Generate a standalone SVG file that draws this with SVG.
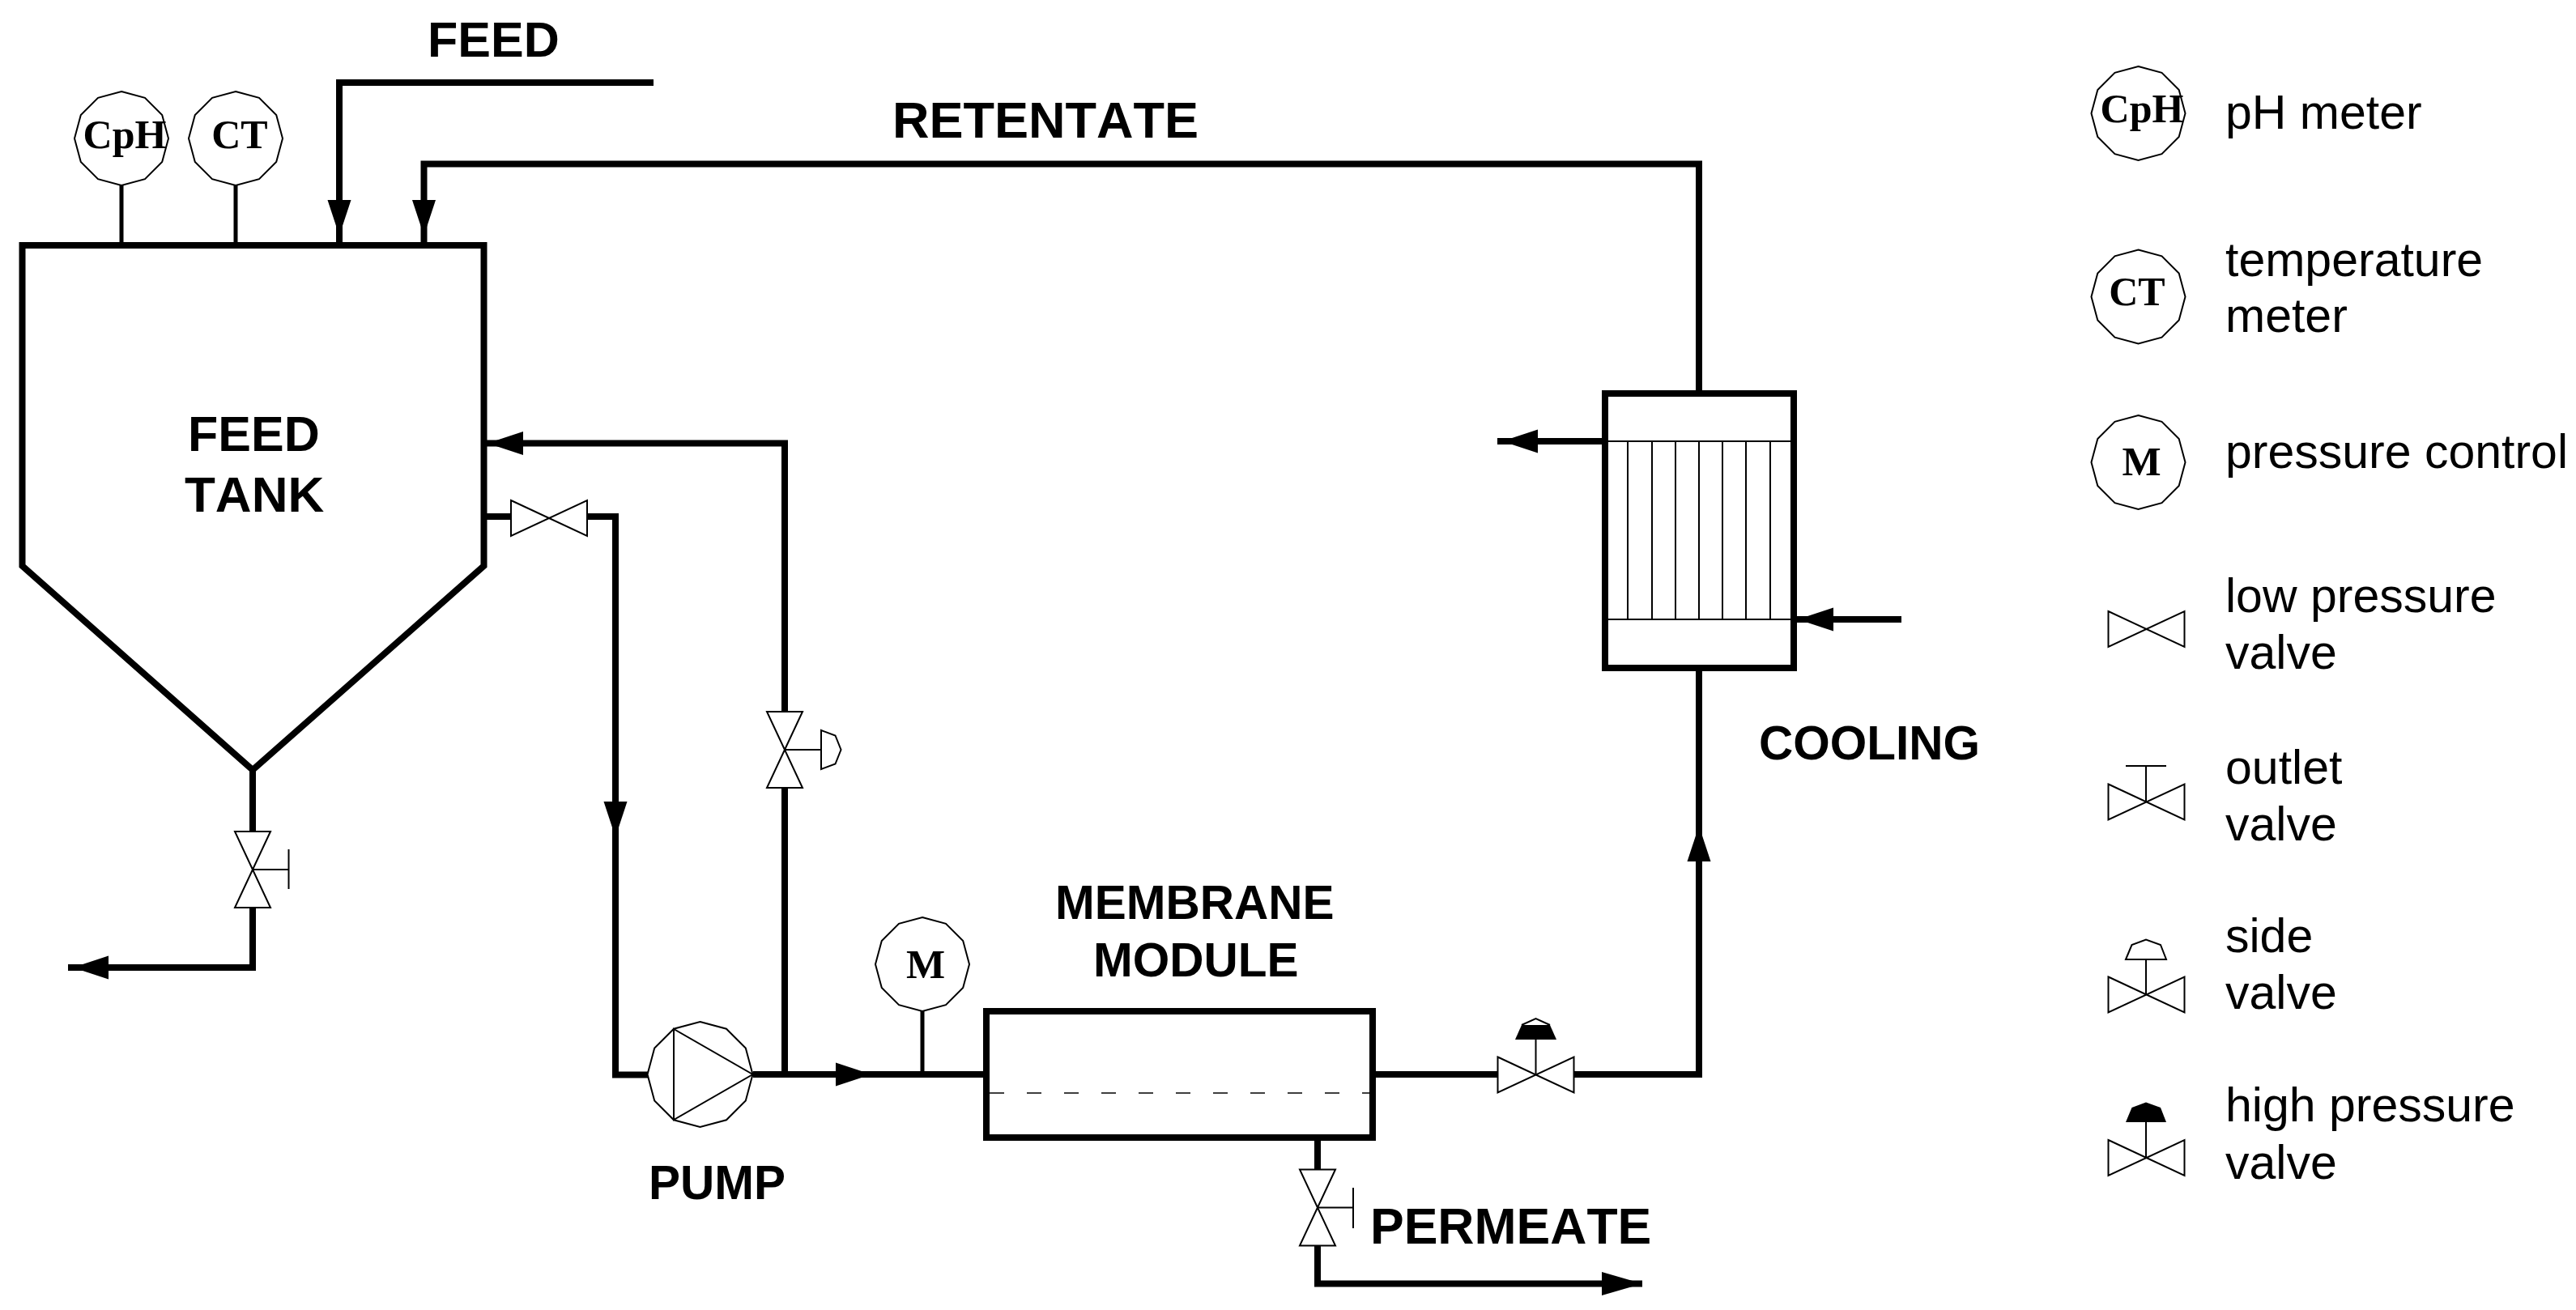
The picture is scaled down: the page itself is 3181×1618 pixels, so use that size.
<svg xmlns="http://www.w3.org/2000/svg" width="3181" height="1618" viewBox="0 0 3181 1618">
<style>
.pipe{fill:none;stroke:#000;stroke-width:8;stroke-linejoin:miter}
.stem{fill:none;stroke:#000;stroke-width:5}
.thin{fill:none;stroke:#000;stroke-width:2}
.sym{fill:#fff;stroke:#000;stroke-width:2}
text{font-kerning:none}
.lab{font-family:"Liberation Sans",Arial,sans-serif;font-weight:700;font-size:58.500px;fill:#000}
.leg{font-family:"Liberation Sans",Arial,sans-serif;font-size:59px;fill:#000}
.ins{font-family:"Liberation Serif","Times New Roman",serif;font-weight:700;font-size:50px;fill:#000;text-anchor:middle}
</style>
<defs>
<marker id="arr" markerUnits="userSpaceOnUse" markerWidth="60" markerHeight="30" refX="50" refY="15" orient="auto" overflow="visible"><polygon points="0,0.500 44,15 0,29.500" fill="#000"/></marker>
<marker id="arrL" markerUnits="userSpaceOnUse" markerWidth="60" markerHeight="30" refX="50" refY="15" orient="auto" overflow="visible"><polygon points="0,0.500 50,15 0,29.500" fill="#000"/></marker>
<polygon id="g12" points="0,-58 29,-50.2 50.2,-29 58,0 50.2,29 29,50.2 0,58 -29,50.2 -50.2,29 -58,0 -50.2,-29 -29,-50.2"/>
<path id="bow" d="M-47,-22 L47,22 L47,-22 L-47,22 Z"/>
<polygon id="cap" points="-25,0 -17.5,-18 0,-24.5 18,-18 25,0"/>
</defs>
<rect width="3181" height="1618" fill="#fff"/>
<g id="connectors">
<path class="pipe" d="M807,102 H419 V297" marker-end="url(#arr)"/>
<path class="pipe" d="M419,297 V303"/>
<path class="pipe" d="M2098,486 V202.500 H523.500 V297" marker-end="url(#arr)"/>
<path class="pipe" d="M523.500,297 V303"/>
<path class="pipe" d="M969,879 V547.500 H596" marker-end="url(#arr)"/>
<path class="pipe" d="M598,638 H631"/>
<path class="pipe" d="M725,638 H760 V1040" marker-end="url(#arr)"/>
<path class="pipe" d="M760,1040 V1327.500 H800"/>
<path class="pipe" d="M969,972 V1327"/>
<path class="pipe" d="M930,1327 H1082" marker-end="url(#arr)"/>
<path class="pipe" d="M1082,1327 H1218"/>
<path class="pipe" d="M1695,1327 H1850"/>
<path class="pipe" d="M1943,1327 H2098 V1014" marker-end="url(#arr)"/>
<path class="pipe" d="M2098,1014 V825"/>
<path class="pipe" d="M1982,545 H1849" marker-end="url(#arr)"/>
<path class="pipe" d="M2348,765 H2214" marker-end="url(#arr)"/>
<path class="pipe" d="M312,951 V1027"/>
<path class="pipe" d="M312,1120 V1195 H84" marker-end="url(#arr)"/>
<path class="pipe" d="M1627,1405 V1445"/>
<path class="pipe" d="M1627,1538 V1585.500 H2028" marker-end="url(#arrL)"/>
<path class="stem" d="M150,229 V303 M291,229 V303 M1139,1249 V1327"/>
</g>
<g id="feed-tank">
<path d="M27.500,303 H597.500 V699 L312,951 L27.500,699 Z" fill="#fff" stroke="#000" stroke-width="8"/>
<text class="lab" x="232" y="557" style="font-size:61px">FEED</text>
<text class="lab" x="228" y="632" style="font-size:62px">TANK</text>
</g>
<g id="cph-gauge"><use href="#g12" class="sym" transform="translate(150,171)"/><text class="ins" x="154" y="183">CpH</text></g>
<g id="ct-gauge"><use href="#g12" class="sym" transform="translate(291,171)"/><text class="ins" x="296" y="183">CT</text></g>
<g id="feed-label"><text class="lab" x="528" y="70" style="font-size:61px">FEED</text></g>
<g id="retentate-label"><text class="lab" x="1102" y="170" style="font-size:63px">RETENTATE</text></g>
<g id="low-valve"><use href="#bow" class="sym" transform="translate(678,640)"/></g>
<g id="side-valve"><use href="#bow" class="sym" transform="translate(969,926) rotate(90)"/><path class="thin" d="M969,926 H1014"/><path class="sym" d="M1014,902 L1031.500,908.500 L1038.500,926 L1031.500,943.500 L1014,950 Z"/></g>
<g id="tank-outlet-valve"><use href="#bow" class="sym" transform="translate(312,1074) rotate(90)"/><path class="thin" d="M312,1074 H356.500 M356.500,1049 V1098"/></g>
<g id="pump">
<polygon class="sym" points="864.500,1262 897,1270.700 920.800,1294.500 929.500,1327 920.800,1359.500 897,1383.300 864.500,1392 832,1383.300 808.200,1359.500 799.500,1327 808.200,1294.500 832,1270.700"/>
<path class="thin" d="M832,1271 V1383 L929.500,1327 Z"/>
<text class="lab" x="801" y="1481">PUMP</text>
</g>
<g id="pressure-gauge"><use href="#g12" class="sym" transform="translate(1139,1191)"/><text class="ins" x="1143" y="1208" style="font-size:51px">M</text></g>
<g id="membrane-module">
<rect x="1218" y="1249" width="477" height="156" fill="#fff" stroke="#000" stroke-width="8"/>
<path d="M1222,1350 H1692" fill="none" stroke="#000" stroke-width="1.500" stroke-dasharray="18 28"/>
<text class="lab" x="1303" y="1135">MEMBRANE</text>
<text class="lab" x="1350" y="1206">MODULE</text>
</g>
<g id="high-valve"><use href="#bow" class="sym" transform="translate(1896.500,1327.500)"/><path class="thin" d="M1896.500,1327 V1283"/><path d="M1871,1284 L1879,1266 L1914,1266 L1922,1284 Z" fill="#000"/><path class="thin" d="M1879,1266 L1896.500,1258 L1914,1266"/></g>
<g id="permeate-valve"><use href="#bow" class="sym" transform="translate(1627,1491.500) rotate(90)"/><path class="thin" d="M1627,1491.500 H1671 M1671,1467 V1517"/>
<text class="lab" x="1692" y="1536" style="font-size:62.500px">PERMEATE</text></g>
<g id="heat-exchanger">
<rect x="1982" y="486" width="233" height="339" fill="#fff" stroke="#000" stroke-width="8"/>
<path class="thin" d="M1986,545 H2211 M1986,765 H2211 M2010,545 V765 M2040,545 V765 M2069,545 V765 M2098,545 V765 M2127,545 V765 M2156,545 V765 M2186,545 V765"/>
<text class="lab" x="2172" y="938">COOLING</text>
</g>
<g id="legend-ph"><use href="#g12" class="sym" transform="translate(2640.500,140)"/><text class="ins" x="2645" y="151">CpH</text><text class="leg" x="2748" y="159">pH meter</text></g>
<g id="legend-temp"><use href="#g12" class="sym" transform="translate(2640.500,366.500)"/><text class="ins" x="2639" y="377">CT</text><text class="leg" x="2748" y="341">temperature</text><text class="leg" x="2748" y="410">meter</text></g>
<g id="legend-pressure"><use href="#g12" class="sym" transform="translate(2640.500,571)"/><text class="ins" x="2644.500" y="587" style="font-size:51px">M</text><text class="leg" x="2748" y="578">pressure control</text></g>
<g id="legend-low"><use href="#bow" class="sym" transform="translate(2650.500,777)"/><text class="leg" x="2748" y="756">low pressure</text><text class="leg" x="2748" y="826">valve</text></g>
<g id="legend-outlet"><use href="#bow" class="sym" transform="translate(2650.500,990.500)"/><path class="thin" d="M2650,990 V946 M2625,946 H2675"/><text class="leg" x="2748" y="968">outlet</text><text class="leg" x="2748" y="1038">valve</text></g>
<g id="legend-side"><use href="#bow" class="sym" transform="translate(2650.500,1228.500)"/><path class="thin" d="M2650,1228 V1185"/><use href="#cap" class="sym" transform="translate(2650,1185)"/><text class="leg" x="2748" y="1176">side</text><text class="leg" x="2748" y="1246">valve</text></g>
<g id="legend-high"><use href="#bow" class="sym" transform="translate(2650.500,1430)"/><path class="thin" d="M2650,1430 V1386"/><use href="#cap" fill="#000" transform="translate(2650,1386)"/><text class="leg" x="2748" y="1385">high pressure</text><text class="leg" x="2748" y="1456">valve</text></g>
</svg>
